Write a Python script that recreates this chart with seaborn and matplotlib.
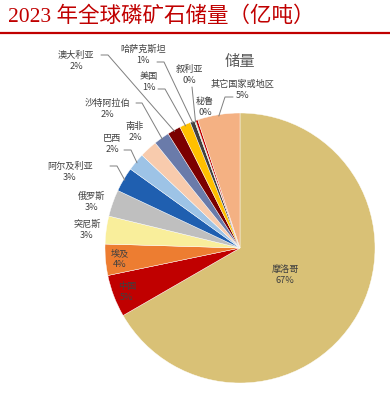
import numpy as np
import matplotlib
matplotlib.use("Agg")
import matplotlib.pyplot as plt
import seaborn as sns
from matplotlib.lines import Line2D

# -----------------------------
# DATA (亿吨)
# -----------------------------
countries = ["摩洛哥", "中国", "埃及", "突尼斯", "俄罗斯", "阿尔及利亚", "巴西", "南非",
             "沙特阿拉伯", "澳大利亚", "美国", "哈萨克斯坦", "叙利亚", "秘鲁", "其它国家或地区"]
reserves = [500, 38, 28, 25, 24, 22, 16, 16, 14, 12, 10, 4, 1, 2, 38]
colors = ["#D9C176", "#C00000", "#ED7D31", "#F9EE9B", "#BFBFBF", "#1F5FB0", "#9DC3E6", "#F8CBAD",
          "#6A7BAA", "#7B0000", "#FFC000", "#404040", "#C5E0B4", "#C00000", "#F4B183"]

title = "2023 年全球磷矿石储量（亿吨）"
chart_name = "储量"

# -----------------------------
# LAYOUT (pixel positions of labels)
# -----------------------------
W, H = 390, 396
CX, CY, R = 240, 248, 135

label_pos = [(285, 275), (127, 292), (120, 259), (87, 230), (92, 202), (70, 172), (112, 144),
             (135, 132), (107, 109), (76, 61), (149, 82), (143, 55), (189, 75), (205, 107), (243, 90)]
# leader line: start point, elbow point
leaders = {5: ((110, 166), (117, 166)), 6: ((124, 150), (131, 150)), 8: ((136, 103), (142, 103)),
           9: ((101, 55), (108, 55)), 11: ((157, 62), (164, 62)), 10: ((158, 89), (165, 89)),
           12: ((192, 87), (192, 87)), 14: ((233, 97), (225, 97))}


def px(x, y):
    return (x - CX) / R, (CY - y) / R


sns.set_theme(style="white")
plt.rcParams["font.family"] = ["Noto Sans CJK SC", "DejaVu Sans"]

fig = plt.figure(figsize=(W / 100, H / 100), dpi=100)
ax = fig.add_axes([0, 0, 1, 1])

wedges, _ = ax.pie(reserves, colors=colors, startangle=90, counterclock=False, radius=1,
                   wedgeprops=dict(linewidth=0.3, edgecolor="white"))
ax.set_xlim(-CX / R, (W - CX) / R)
ax.set_ylim(-(H - CY) / R, CY / R)
ax.set_aspect("equal")
ax.axis("off")

total = sum(reserves)
pcts = [f"{v / total * 100:.0f}%" for v in reserves]

for i, (name, pct) in enumerate(zip(countries, pcts)):
    x, y = px(*label_pos[i])
    ax.text(x, y, f"{name}\n{pct}", ha="center", va="center", fontsize=6.6,
            color="#404040", linespacing=1.3)
    if i in leaders:
        w = wedges[i]
        mid = np.deg2rad((w.theta1 + w.theta2) / 2)
        ex, ey = np.cos(mid) * 0.99, np.sin(mid) * 0.99
        (sx, sy), (bx, by) = px(*leaders[i][0]), px(*leaders[i][1])
        ax.plot([sx, bx, ex], [sy, by, ey], color="#7F7F7F", lw=0.7)

ax.text(*px(240, 61), chart_name, ha="center", va="center", fontsize=11, color="#595959")

fig.text(8 / W, 1 - 17 / H, title, ha="left", va="center", fontsize=15.5, color="#C00000",
         family=["Liberation Serif", "Noto Sans CJK SC"])
fig.add_artist(Line2D([0, 1], [1 - 33 / H] * 2, color="#C00000", lw=1.6))

plt.savefig("out.png", dpi=100)
